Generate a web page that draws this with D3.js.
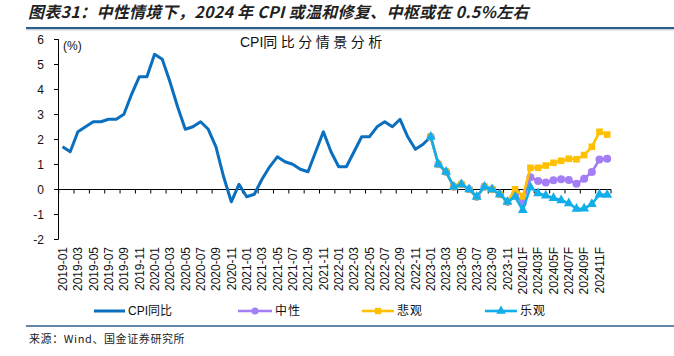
<!DOCTYPE html>
<html><head><meta charset="utf-8">
<script src="https://cdn.jsdelivr.net/npm/d3@7"></script>
<style>
html,body{margin:0;padding:0;background:#fff;}
svg{display:block;}
text{font-family:"Liberation Sans",Arial,"Noto Sans CJK SC",sans-serif;}
.cjk{font-family:"Noto Sans CJK SC",sans-serif;}
</style></head>
<body>
<script>
// ---------- data ----------
const categories = [
 "2019-01","2019-02","2019-03","2019-04","2019-05","2019-06","2019-07","2019-08","2019-09","2019-10","2019-11","2019-12",
 "2020-01","2020-02","2020-03","2020-04","2020-05","2020-06","2020-07","2020-08","2020-09","2020-10","2020-11","2020-12",
 "2021-01","2021-02","2021-03","2021-04","2021-05","2021-06","2021-07","2021-08","2021-09","2021-10","2021-11","2021-12",
 "2022-01","2022-02","2022-03","2022-04","2022-05","2022-06","2022-07","2022-08","2022-09","2022-10","2022-11","2022-12",
 "2023-01","2023-02","2023-03","2023-04","2023-05","2023-06","2023-07","2023-08","2023-09","2023-10","2023-11","2023-12",
 "202401F","202402F","202403F","202404F","202405F","202406F","202407F","202408F","202409F","202410F","202411F","202412F"
];
// CPI YoY actual, starting 2019-01
const cpiActual = [
 1.7,1.5,2.3,2.5,2.7,2.7,2.8,2.8,3.0,3.8,4.5,4.5,
 5.4,5.2,4.3,3.3,2.4,2.5,2.7,2.4,1.7,0.5,-0.5,0.2,
 -0.3,-0.2,0.4,0.9,1.3,1.1,1.0,0.8,0.7,1.5,2.3,1.5,
 0.9,0.9,1.5,2.1,2.1,2.5,2.7,2.5,2.8,2.1,1.6,1.8,
 2.1
];
// scenarios, starting 2023-01
const scenarioStart = "2023-01";
const neutral = [2.1,1.0,0.7,0.1,0.2,0.0,-0.3,0.1,0.0,-0.2,-0.5,-0.2,
 -0.55,0.48,0.33,0.27,0.36,0.4,0.37,0.22,0.42,0.69,1.19,1.22];
const pessimistic = [2.1,1.0,0.7,0.1,0.2,0.0,-0.3,0.1,0.0,-0.2,-0.5,0.0,
 -0.28,0.86,0.86,0.95,1.06,1.14,1.22,1.2,1.37,1.7,2.3,2.19];
const optimistic = [2.1,1.0,0.7,0.1,0.2,0.0,-0.3,0.1,0.0,-0.2,-0.5,-0.3,
 -0.83,0.08,-0.16,-0.25,-0.35,-0.44,-0.56,-0.78,-0.77,-0.59,-0.21,-0.22];
const yTicks = [-2,-1,0,1,2,3,4,5,6];
const titleText = "图表31：中性情境下，2024 年 CPI 或温和修复、中枢或在 0.5%左右";
const sourceText = "来源：Wind、国金证券研究所";

// ---------- layout ----------
const W = 674, H = 356;
const svg = d3.select("body").append("svg").attr("width", W).attr("height", H);

const x = d3.scaleBand().domain(categories).range([58.7, 611]).padding(0);
const y = d3.scaleLinear().domain([-2, 6]).range([239.3, 39.3]);
const bw = x.bandwidth();
const cx = c => x(c) + bw / 2;

// title
svg.append("text").attr("class","cjk").attr("x", 28).attr("y", 18)
  .attr("font-size", 16).attr("font-style","italic").attr("font-weight","bold")
  .attr("letter-spacing", 0.3).attr("fill","#222").text(titleText);
svg.append("line").attr("x1", 26).attr("x2", W).attr("y1", 28).attr("y2", 28)
  .attr("stroke","#2F5E88").attr("stroke-width",2);
svg.append("line").attr("x1", 26).attr("x2", W).attr("y1", 29.8).attr("y2", 29.8)
  .attr("stroke","#A9C1D6").attr("stroke-width",1);

// subtitle
const st = svg.append("text").attr("x", 240).attr("y", 47).attr("font-size", 14).attr("fill","#111");
st.append("tspan").text("CPI");
st.append("tspan").attr("class","cjk").attr("letter-spacing", 3.5).text("同比分情景分析");

// unit
svg.append("text").attr("x", 63).attr("y", 50).attr("font-size", 12).attr("fill","#111").text("(%)");

// y axis
svg.append("line").attr("x1", 58.5).attr("x2", 58.5).attr("y1", y(6)).attr("y2", y(-2))
  .attr("stroke","#000").attr("stroke-width",1);
svg.selectAll(".ytick").data(yTicks).enter().append("line")
  .attr("x1", 54).attr("x2", 58.5).attr("y1", d => Math.round(y(d))+0.5).attr("y2", d => Math.round(y(d))+0.5)
  .attr("stroke","#000");
svg.selectAll(".ylab").data(yTicks).enter().append("text")
  .attr("x", 44).attr("y", d => y(d)).attr("dy","0.36em").attr("text-anchor","end")
  .attr("font-size", 12).attr("fill","#111").text(d => d);

// x axis at zero
const y0 = Math.round(y(0)) + 0.5;
svg.append("line").attr("x1", 58.5).attr("x2", 611).attr("y1", y0).attr("y2", y0)
  .attr("stroke","#000").attr("stroke-width",1);
const tickIdx = d3.range(0, categories.length + 1, 2);
svg.selectAll(".xtick").data(tickIdx).enter().append("line")
  .attr("x1", i => (i < categories.length ? x(categories[i]) : x(categories[i-1]) + bw))
  .attr("x2", i => (i < categories.length ? x(categories[i]) : x(categories[i-1]) + bw))
  .attr("y1", y0).attr("y2", y0 + 4).attr("stroke","#000");
svg.selectAll(".xlab").data(categories.filter((c,i) => i % 2 === 0)).enter().append("text")
  .attr("transform", c => `translate(${cx(c)},247) rotate(-90)`)
  .attr("dy","0.36em").attr("text-anchor","end").attr("font-size", 12).attr("fill","#111")
  .text(c => c);

// lines
const line = d3.line().defined(d => d.v != null).x(d => cx(d.c)).y(d => y(d.v));
const cpiData = cpiActual.map((v,i) => ({c: categories[i], v}));
const s0 = categories.indexOf(scenarioStart);
const mk = arr => arr.map((v,i) => ({c: categories[s0 + i], v}));

const colors = {cpi:"#0A6FBE", neu:"#A47EF4", pes:"#FFC000", opt:"#12AEEA"};

svg.append("path").datum(cpiData).attr("d", line).attr("fill","none")
  .attr("stroke", colors.cpi).attr("stroke-width", 3).attr("stroke-linejoin","round");

function drawSeries(arr, color, shape) {
  const data = mk(arr);
  svg.append("path").datum(data).attr("d", line).attr("fill","none")
    .attr("stroke", color).attr("stroke-width", 2.6).attr("stroke-linejoin","round");
  const sym = d3.symbol().type(shape).size(shape === d3.symbolTriangle ? 42 : (shape === d3.symbolSquare ? 44 : 50));
  svg.append("g").selectAll("path").data(data).enter().append("path")
    .attr("d", sym).attr("transform", d => `translate(${cx(d.c)},${y(d.v)})`)
    .attr("fill", color);
}
drawSeries(neutral, colors.neu, d3.symbolCircle);
drawSeries(pessimistic, colors.pes, d3.symbolSquare);
drawSeries(optimistic, colors.opt, d3.symbolTriangle);

// legend
const legendY = 311;
const legend = [
  {name:"CPI同比", color:colors.cpi, x1:94, x2:125, shape:null, w:3},
  {name:"中性", color:colors.neu, x1:238, x2:272, shape:d3.symbolCircle, w:2.6},
  {name:"悲观", color:colors.pes, x1:362, x2:394, shape:d3.symbolSquare, w:2.6},
  {name:"乐观", color:colors.opt, x1:485, x2:517, shape:d3.symbolTriangle, w:2.6}
];
legend.forEach(l => {
  svg.append("line").attr("x1", l.x1).attr("x2", l.x2).attr("y1", legendY).attr("y2", legendY)
    .attr("stroke", l.color).attr("stroke-width", l.w);
  if (l.shape) {
    svg.append("path").attr("d", d3.symbol().type(l.shape).size(40)())
      .attr("transform", `translate(${(l.x1+l.x2)/2},${legendY})`).attr("fill", l.color);
  }
  svg.append("text").attr("x", l.x2 + 3).attr("y", legendY).attr("dy","0.36em")
    .attr("font-size", 12).attr("letter-spacing", l.shape ? 1 : 0).attr("fill","#111").text(l.name);
});

// bottom rule and source
svg.append("line").attr("x1", 26).attr("x2", W).attr("y1", 326).attr("y2", 326)
  .attr("stroke","#2F5E88").attr("stroke-width",1.5);
svg.append("text").attr("class","cjk").attr("x", 29).attr("y", 343).attr("font-size", 11)
  .attr("letter-spacing", 0.6).attr("fill","#222").text(sourceText);
</script>
</body></html>
